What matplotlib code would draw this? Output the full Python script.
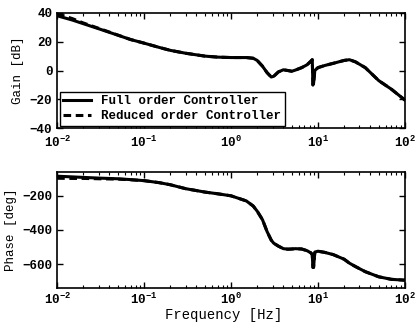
import numpy as np
import matplotlib
matplotlib.use("Agg")
import matplotlib.pyplot as plt
from matplotlib.ticker import LogLocator, FixedLocator, NullFormatter

plt.rcParams['font.family'] = 'Liberation Mono'
plt.rcParams['font.weight'] = 'bold'
plt.rcParams['mathtext.fontset'] = 'custom'
plt.rcParams['mathtext.rm'] = 'Liberation Mono:bold'
plt.rcParams['mathtext.it'] = 'Liberation Mono:bold'

# frequency response data of the two controllers
freq = [0.01, 0.015, 0.02, 0.03, 0.05, 0.07, 0.1, 0.15, 0.2, 0.3, 0.5, 0.7,
        1.0, 1.5, 1.8, 2.0, 2.3, 2.6, 2.9, 3.1, 3.5, 4.0, 4.5, 5.0, 5.5, 6.5,
        7.5, 8.3, 8.6, 8.75, 8.9, 9.2, 10, 12, 15, 20, 23, 27, 35, 50, 70, 100]

gain_full = [38, 35, 32.5, 29, 24.5, 21.5, 19, 16, 14, 12, 10, 9.3,
             9, 9, 8.5, 7, 3, -1.5, -4.5, -4, -1, 0.5, 0, -0.5, 0.3, 2,
             4, 6.5, 7.5, -10, -9, 0, 2, 3.5, 5, 7, 7.5, 6, 2, -7, -13, -20.5]
gain_red = [39.5, 36, 33, 29.3, 24.6, 21.5, 19, 16, 14, 12, 10, 9.3,
            9, 9, 8.5, 7, 3, -1.5, -4.5, -4, -1, 0.5, 0, -0.5, 0.3, 2,
            4, 6.5, 7.5, -10, -9, 0, 2, 3.5, 5, 7, 7.5, 6, 2, -7, -13, -20.5]

phase_full = [-85, -89, -92, -96, -100, -105, -111, -123, -135, -158, -178, -188,
              -200, -230, -260, -290, -340, -410, -460, -478, -495, -510, -513, -512, -510, -512,
              -522, -535, -545, -620, -620, -530, -525, -532, -545, -572, -595, -615, -645, -675, -690, -695]
phase_red = [-97, -98, -98, -100, -102, -106, -111, -123, -135, -158, -178, -188,
             -200, -230, -260, -290, -340, -410, -460, -478, -495, -510, -513, -512, -510, -512,
             -522, -535, -545, -620, -620, -530, -525, -532, -545, -572, -595, -615, -645, -675, -690, -695]

fig = plt.figure(figsize=(4.17, 3.22), dpi=100)
ax1 = fig.add_axes([0.137, 0.602, 0.834, 0.358])
ax2 = fig.add_axes([0.137, 0.106, 0.834, 0.36])

ax1.semilogx(freq, gain_full, 'k-', lw=2.2, label='Full order Controller')
ax1.semilogx(freq, gain_red, 'k--', lw=2.2, dashes=(2.5, 1.5), label='Reduced order Controller')
ax2.semilogx(freq, phase_full, 'k-', lw=2.2)
ax2.semilogx(freq, phase_red, 'k--', lw=2.2, dashes=(2.5, 1.5))

ax1.set_ylim(-40, 40)
ax1.set_yticks([-40, -20, 0, 20, 40])
ax2.set_ylim(-740, -60)
ax2.set_yticks([-600, -400, -200])

for ax in (ax1, ax2):
    ax.set_xlim(0.01, 100)
    ax.xaxis.set_major_locator(FixedLocator([0.01, 0.1, 1, 10, 100]))
    ax.xaxis.set_minor_locator(LogLocator(base=10, subs=np.arange(2, 10)))
    ax.xaxis.set_minor_formatter(NullFormatter())
    ax.set_xticklabels([r'$10^{-2}$', r'$10^{-1}$', r'$10^{0}$', r'$10^{1}$', r'$10^{2}$'])
    ax.tick_params(which='both', direction='in', top=True, right=True, labelsize=9)
    ax.tick_params(which='major', length=4, width=1)
    ax.tick_params(which='minor', length=2, width=0.8)
    for s in ax.spines.values():
        s.set_linewidth(1.2)

ax1.tick_params(axis='x', which='major', pad=5)
ax2.tick_params(axis='x', which='major', pad=3)

ax1.set_ylabel('Gain [dB]', fontsize=9)
ax2.set_ylabel('Phase [deg]', fontsize=9)
ax2.set_xlabel('Frequency [Hz]', fontsize=10)
ax2.xaxis.set_label_coords(0.48, -0.17)

leg = ax1.legend(loc='lower left', fontsize=9, fancybox=False, framealpha=1,
                 edgecolor='black', handlelength=2.2, borderpad=0.3,
                 labelspacing=0.2, borderaxespad=0.2)
leg.get_frame().set_linewidth(1.0)

fig.savefig('out.png', dpi=100)
